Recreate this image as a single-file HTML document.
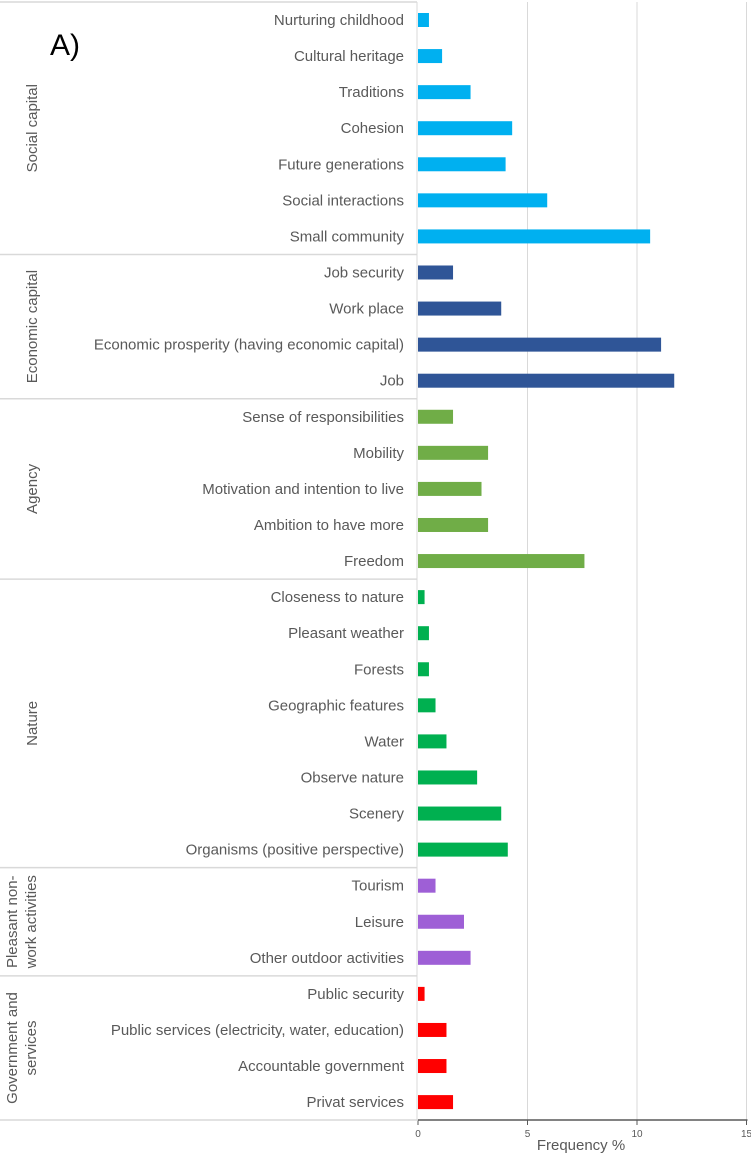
<!DOCTYPE html>
<html><head><meta charset="utf-8">
<style>
html,body{margin:0;padding:0;background:#fff;}
svg{display:block;font-family:"Liberation Sans",Arial,sans-serif;}
</style></head>
<body>
<svg id="chart" width="751" height="1159" viewBox="0 0 751 1159" xmlns="http://www.w3.org/2000/svg">
<text x="50" y="55" font-size="30" fill="#000">A)</text>
<text x="581" y="1150" font-size="15" fill="#595959" text-anchor="middle">Frequency %</text>
</svg>
<script>
const categories = ["Nurturing childhood","Cultural heritage","Traditions","Cohesion","Future generations","Social interactions","Small community",
"Job security","Work place","Economic prosperity (having economic capital)","Job",
"Sense of responsibilities","Mobility","Motivation and intention to live","Ambition to have more","Freedom",
"Closeness to nature","Pleasant weather","Forests","Geographic features","Water","Observe nature","Scenery","Organisms (positive perspective)",
"Tourism","Leisure","Other outdoor activities",
"Public security","Public services (electricity, water, education)","Accountable government","Privat services"];
const values = [0.5,1.1,2.4,4.3,4.0,5.9,10.6, 1.6,3.8,11.1,11.7, 1.6,3.2,2.9,3.2,7.6, 0.3,0.5,0.5,0.8,1.3,2.7,3.8,4.1, 0.8,2.1,2.4, 0.3,1.3,1.3,1.6];
const groupNames = [["Social capital"],["Economic capital"],["Agency"],["Nature"],["Pleasant non-","work activities"],["Government and","services"]];
const groupSizes = [7,4,5,8,3,4];
const groupColors = ["#00b0f0","#2f5597","#70ad47","#00b050","#9e5fd6","#ff0000"];
const xTicks = [0,5,10,15];

const NS="http://www.w3.org/2000/svg";
const svg=document.getElementById('chart');
const x0=418, x1=746.5, xMax=15;
const xs=v=>x0+(x1-x0)*v/xMax;
const yTop=20, step=36.07, axisY=1120;
const ys=i=>yTop+i*step;
function mk(tag,attrs){const e=document.createElementNS(NS,tag);for(const k in attrs)e.setAttribute(k,attrs[k]);svg.appendChild(e);return e;}

xTicks.forEach((t,i)=>{
  if(t>0){const g=mk('line',{x1:xs(t),x2:xs(t),y1:2,y2:axisY,stroke:'#d9d9d9','stroke-width':1});
  
  }
  const tk=mk('line',{x1:xs(t),x2:xs(t),y1:axisY,y2:axisY+5,stroke:'#595959','stroke-width':1});
  
  
  const tl=mk('text',{x:xs(t),y:axisY+17,'font-size':10,fill:'#595959','text-anchor':'middle'});
  tl.textContent=t;
  
  
});

const va=mk('line',{x1:x0-1,x2:x0-1,y1:2,y2:axisY,stroke:'#d9d9d9','stroke-width':1});


const axl=mk('line',{x1:0,x2:x0,y1:axisY,y2:axisY,stroke:'#d9d9d9','stroke-width':1.5});


const ax=mk('line',{x1:x0,x2:x1+1,y1:axisY,y2:axisY,stroke:'#595959','stroke-width':1.5});


const topBorder=mk('line',{x1:0,x2:x0-1,y1:2,y2:2,stroke:'#d9d9d9','stroke-width':1.5});



let idx=0;
groupSizes.forEach((n,g)=>{
  const start=idx;
  for(let k=0;k<n;k++,idx++){
    const y=ys(idx);
    const b=mk('rect',{x:xs(0),y:y-7,width:xs(values[idx])-xs(0),height:14,fill:groupColors[g]});
    
    
    const l=mk('text',{x:404,y:y+5,'font-size':15,fill:'#595959','text-anchor':'end'});
    l.textContent=categories[idx];
    
    
  }
  const cy=(ys(start)+ys(idx-1))/2;
  const lines=groupNames[g];
  lines.forEach((s,j)=>{
    const cx = lines.length===1 ? 37 : 17+j*19;
    const t=mk('text',{x:cx,y:cy,'font-size':15,fill:'#595959','text-anchor':'middle',transform:`rotate(-90 ${cx} ${cy})`});
    t.textContent=s;
    
    
  });
  if(g<groupSizes.length-1){
    const sy=(ys(idx-1)+ys(idx))/2;
    const sl=mk('line',{x1:0,x2:x0-1,y1:sy,y2:sy,stroke:'#d9d9d9','stroke-width':1.5});
    
    
  }
});
</script>
</body></html>
